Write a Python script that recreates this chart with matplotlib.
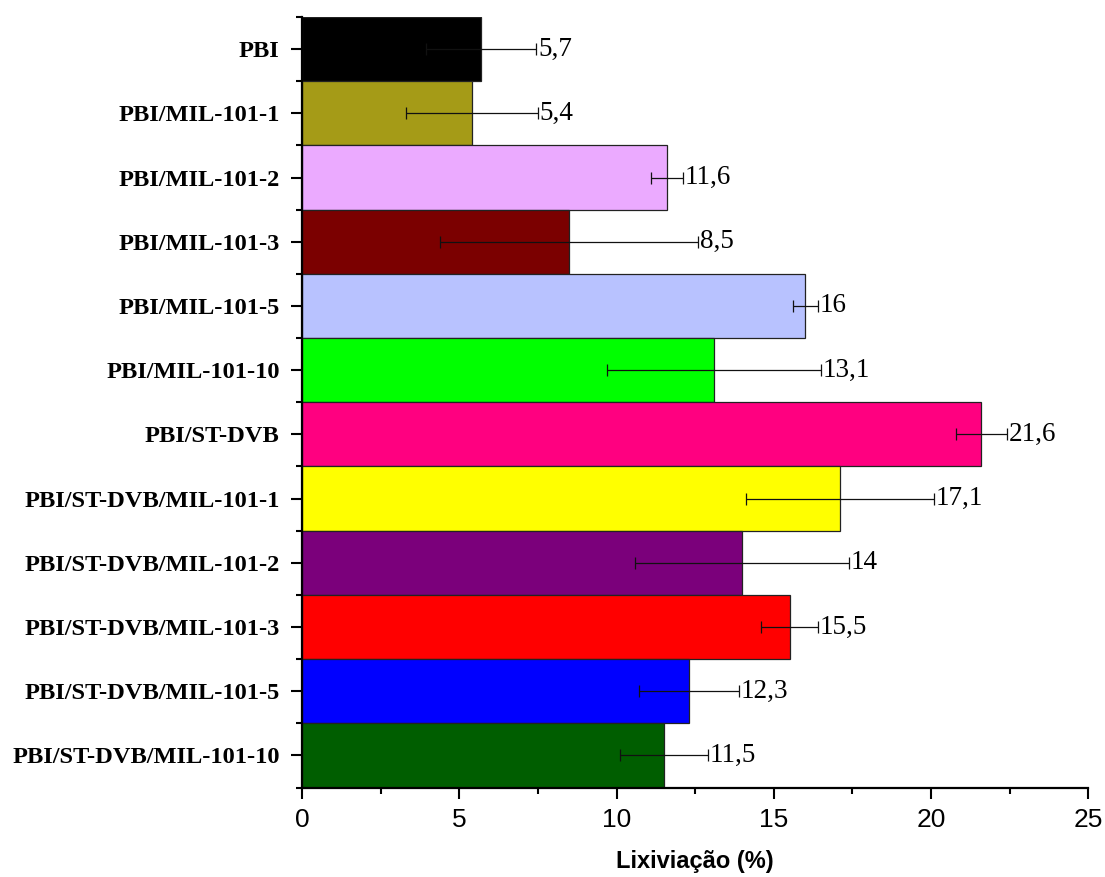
import matplotlib
matplotlib.use("Agg")
import matplotlib.pyplot as plt
from matplotlib.ticker import MultipleLocator, FixedLocator
import numpy as np

# Samples (top to bottom), leaching values and their deviations
samples = [
    "PBI",
    "PBI/MIL-101-1",
    "PBI/MIL-101-2",
    "PBI/MIL-101-3",
    "PBI/MIL-101-5",
    "PBI/MIL-101-10",
    "PBI/ST-DVB",
    "PBI/ST-DVB/MIL-101-1",
    "PBI/ST-DVB/MIL-101-2",
    "PBI/ST-DVB/MIL-101-3",
    "PBI/ST-DVB/MIL-101-5",
    "PBI/ST-DVB/MIL-101-10",
]
leaching = [5.7, 5.4, 11.6, 8.5, 16, 13.1, 21.6, 17.1, 14, 15.5, 12.3, 11.5]
deviation = [1.75, 2.1, 0.5, 4.1, 0.4, 3.4, 0.8, 3.0, 3.4, 0.9, 1.6, 1.4]
value_labels = ["5,7", "5,4", "11,6", "8,5", "16", "13,1",
                "21,6", "17,1", "14", "15,5", "12,3", "11,5"]
bar_colors = [
    "#000000", "#A59B17", "#EBAAFF", "#7B0000", "#B8C2FF", "#00FF00",
    "#FF0080", "#FFFF00", "#7B007B", "#FF0000", "#0000FF", "#005E00",
]

fig = plt.figure(figsize=(11.05, 8.77), dpi=100)
ax = fig.add_axes([0.2733, 0.102, 0.7117, 0.8786])

pos = np.arange(len(samples))
ax.barh(pos, leaching, height=1.0, color=bar_colors, edgecolor="#222222",
        linewidth=0.9, zorder=2)
ax.errorbar(leaching, pos, xerr=deviation, fmt="none", ecolor="#111111",
            elinewidth=0.9, capsize=4.6, capthick=0.9, zorder=3)

for y, v, e, lab in zip(pos, leaching, deviation, value_labels):
    ax.annotate(lab, xy=(v + e, y), xytext=(1.2, 0), textcoords="offset points",
                ha="left", va="center", fontsize=19.5,
                family="Liberation Serif", color="black", zorder=4)

ax.set_xlim(0, 25)
ax.set_ylim(len(samples) - 0.5, -0.5)

ax.set_yticks(pos)
ax.set_yticklabels(samples, family="Liberation Serif", fontweight="bold",
                   fontsize=17.6)
ax.yaxis.set_minor_locator(FixedLocator(np.arange(-0.5, len(samples), 1.0)))

ax.xaxis.set_major_locator(MultipleLocator(5))
ax.xaxis.set_minor_locator(MultipleLocator(2.5))
for lab in ax.get_xticklabels():
    lab.set_family("Liberation Sans")
    lab.set_fontsize(19)

ax.tick_params(axis="both", which="major", direction="out", length=8,
               width=1.5, color="black")
ax.tick_params(axis="both", which="minor", direction="out", length=4.5,
               width=1.5, color="black")
ax.tick_params(axis="y", which="major", pad=8)
ax.tick_params(axis="x", which="major", pad=7)

for side in ("top", "right"):
    ax.spines[side].set_visible(False)
for side in ("left", "bottom"):
    ax.spines[side].set_linewidth(1.6)

ax.set_xlabel("Lixiviação (%)", family="Liberation Sans", fontweight="bold",
              fontsize=17, labelpad=13)

fig.savefig("out.png", dpi=100)
